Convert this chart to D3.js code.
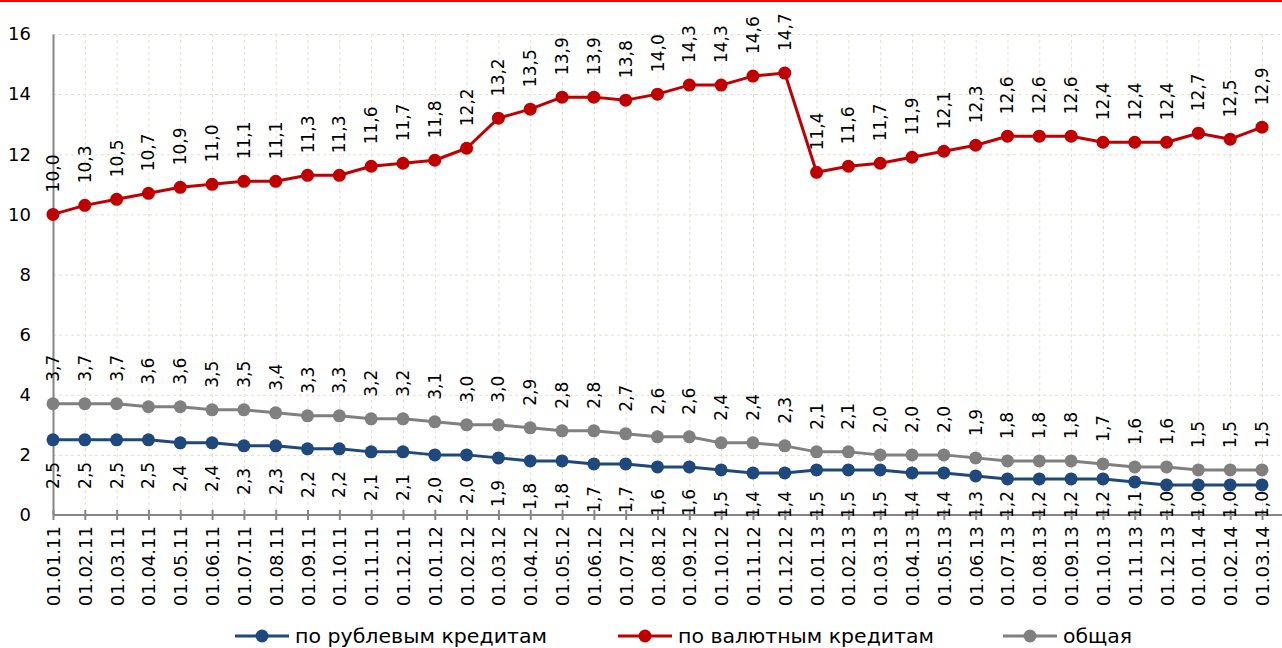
<!DOCTYPE html>
<html>
<head>
<meta charset="utf-8">
<script src="https://cdn.jsdelivr.net/npm/d3@7/dist/d3.min.js"></script>
<style>
  html, body { margin: 0; padding: 0; background: #fff; }
  svg { display: block; }
</style>
</head>
<body>
<svg id="chart" width="1282" height="648"></svg>
<script>
// Dates of observation (first day of each month)
const categories = [
  "01.01.11","01.02.11","01.03.11","01.04.11","01.05.11","01.06.11","01.07.11","01.08.11","01.09.11","01.10.11","01.11.11","01.12.11",
  "01.01.12","01.02.12","01.03.12","01.04.12","01.05.12","01.06.12","01.07.12","01.08.12","01.09.12","01.10.12","01.11.12","01.12.12",
  "01.01.13","01.02.13","01.03.13","01.04.13","01.05.13","01.06.13","01.07.13","01.08.13","01.09.13","01.10.13","01.11.13","01.12.13",
  "01.01.14","01.02.14","01.03.14"
];

// Share of overdue debt, %
const rubleLoans = [
  2.5,2.5,2.5,2.5,2.4,2.4,2.3,2.3,2.2,2.2,2.1,2.1,
  2.0,2.0,1.9,1.8,1.8,1.7,1.7,1.6,1.6,1.5,1.4,1.4,
  1.5,1.5,1.5,1.4,1.4,1.3,1.2,1.2,1.2,1.2,1.1,1.0,
  1.0,1.0,1.0
];
const currencyLoans = [
  10.0,10.3,10.5,10.7,10.9,11.0,11.1,11.1,11.3,11.3,11.6,11.7,
  11.8,12.2,13.2,13.5,13.9,13.9,13.8,14.0,14.3,14.3,14.6,14.7,
  11.4,11.6,11.7,11.9,12.1,12.3,12.6,12.6,12.6,12.4,12.4,12.4,
  12.7,12.5,12.9
];
const totalLoans = [
  3.7,3.7,3.7,3.6,3.6,3.5,3.5,3.4,3.3,3.3,3.2,3.2,
  3.1,3.0,3.0,2.9,2.8,2.8,2.7,2.6,2.6,2.4,2.4,2.3,
  2.1,2.1,2.0,2.0,2.0,1.9,1.8,1.8,1.8,1.7,1.6,1.6,
  1.5,1.5,1.5
];
const yTicks = [0, 2, 4, 6, 8, 10, 12, 14, 16];

const series = [
  { name: "по рублевым кредитам", values: rubleLoans, color: "#1f497d", labelPos: "below" },
  { name: "по валютным кредитам", values: currencyLoans, color: "#c00000", labelPos: "above" },
  { name: "общая", values: totalLoans, color: "#808080", labelPos: "above" }
];

const svg = d3.select("#chart");
const W = 1282, H = 648;
const plot = { left: 53, right: 1262, top: 34, bottom: 515 };
const FONT = "'DejaVu Sans', Verdana, sans-serif";
const fmt = v => d3.format(".1f")(v).replace(".", ",");

// thin red rule at the very top
svg.append("rect").attr("x", 0).attr("y", 0).attr("width", W).attr("height", 2).attr("fill", "#ff0000");

const x = d3.scalePoint().domain(categories).range([plot.left, plot.right]);
const y = d3.scaleLinear().domain([0, 16]).range([plot.bottom, plot.top]);

// grid
const grid = svg.append("g").attr("stroke", "#e3dfcc").attr("stroke-width", 1).attr("stroke-dasharray", "3,3");
grid.selectAll("line.h").data(yTicks.filter(d => d > 0)).join("line")
  .attr("x1", plot.left).attr("x2", plot.right + 20)
  .attr("y1", d => y(d) + 0.5).attr("y2", d => y(d) + 0.5);
grid.selectAll("line.v").data(categories.slice(1)).join("line")
  .attr("x1", d => x(d) + 0.5).attr("x2", d => x(d) + 0.5)
  .attr("y1", plot.top).attr("y2", plot.bottom);

// y axis
const yAxis = svg.append("g").attr("transform", `translate(${plot.left},0)`)
  .call(d3.axisLeft(y).tickValues(yTicks).tickSize(0).tickPadding(22).tickFormat(d3.format("d")));
yAxis.select(".domain").attr("stroke", "#868686").attr("stroke-width", 2);
yAxis.selectAll("text").attr("font-family", FONT).attr("font-size", 18).attr("fill", "#000");

// x axis
const xAxis = svg.append("g").attr("transform", `translate(0,${plot.bottom})`)
  .call(d3.axisBottom(x).tickSize(5).tickPadding(0).tickSizeOuter(0));
xAxis.select(".domain").attr("stroke", "#868686").attr("stroke-width", 2)
  .attr("d", `M${plot.left},0H${plot.right + 20}`);
xAxis.selectAll(".tick line").attr("stroke", "#868686").attr("stroke-width", 2).attr("y1", -5).attr("y2", 5);
xAxis.selectAll("text")
  .attr("font-family", FONT).attr("font-size", 18).attr("fill", "#000")
  .attr("text-anchor", "end").attr("dominant-baseline", "central")
  .attr("transform", "translate(0,11) rotate(-90)")
  .attr("x", 0).attr("y", 0).attr("dy", null);

// lines and markers
const line = d3.line().x((d, i) => x(categories[i])).y(d => y(d));
series.forEach(s => {
  const g = svg.append("g");
  g.append("path").datum(s.values).attr("d", line)
    .attr("fill", "none").attr("stroke", s.color).attr("stroke-width", 3).attr("stroke-linejoin", "round");
  g.selectAll("circle").data(s.values).join("circle")
    .attr("cx", (d, i) => x(categories[i])).attr("cy", d => y(d)).attr("r", 6.5).attr("fill", s.color);
});

// data labels (rotated)
series.forEach(s => {
  const g = svg.append("g");
  s.values.forEach((v, i) => {
    const px = x(categories[i]), py = y(v);
    const t = g.append("text").text(fmt(v))
      .attr("font-family", FONT).attr("font-size", 17).attr("fill", "#000")
      .attr("dominant-baseline", "central");
    const len = t.node().getComputedTextLength();
    if (s.labelPos === "above") {
      const end = py - 22;
      t.attr("text-anchor", "start").attr("transform", `translate(${px},${end}) rotate(-90)`);
    } else {
      // keep the label inside the plot area
      let top = py + 22;
      if (top + len > plot.bottom + 3) top = plot.bottom + 3 - len;
      t.attr("text-anchor", "end").attr("transform", `translate(${px},${top}) rotate(-90)`);
    }
  });
});

// legend
const legendX = [235, 618, 1003];
const legendW = [252, 256, 69];
const lg = svg.append("g");
series.forEach((s, k) => {
  const cy = 636, x0 = legendX[k];
  lg.append("line").attr("x1", x0).attr("x2", x0 + 54).attr("y1", cy).attr("y2", cy)
    .attr("stroke", s.color).attr("stroke-width", 3);
  lg.append("circle").attr("cx", x0 + 27).attr("cy", cy).attr("r", 6.5).attr("fill", s.color);
  lg.append("text").text(s.name)
    .attr("x", x0 + 60).attr("y", cy)
    .attr("dominant-baseline", "central")
    .attr("font-family", FONT).attr("font-size", 19)
    .attr("textLength", legendW[k]).attr("lengthAdjust", "spacingAndGlyphs")
    .attr("fill", "#000");
});
</script>
</body>
</html>
